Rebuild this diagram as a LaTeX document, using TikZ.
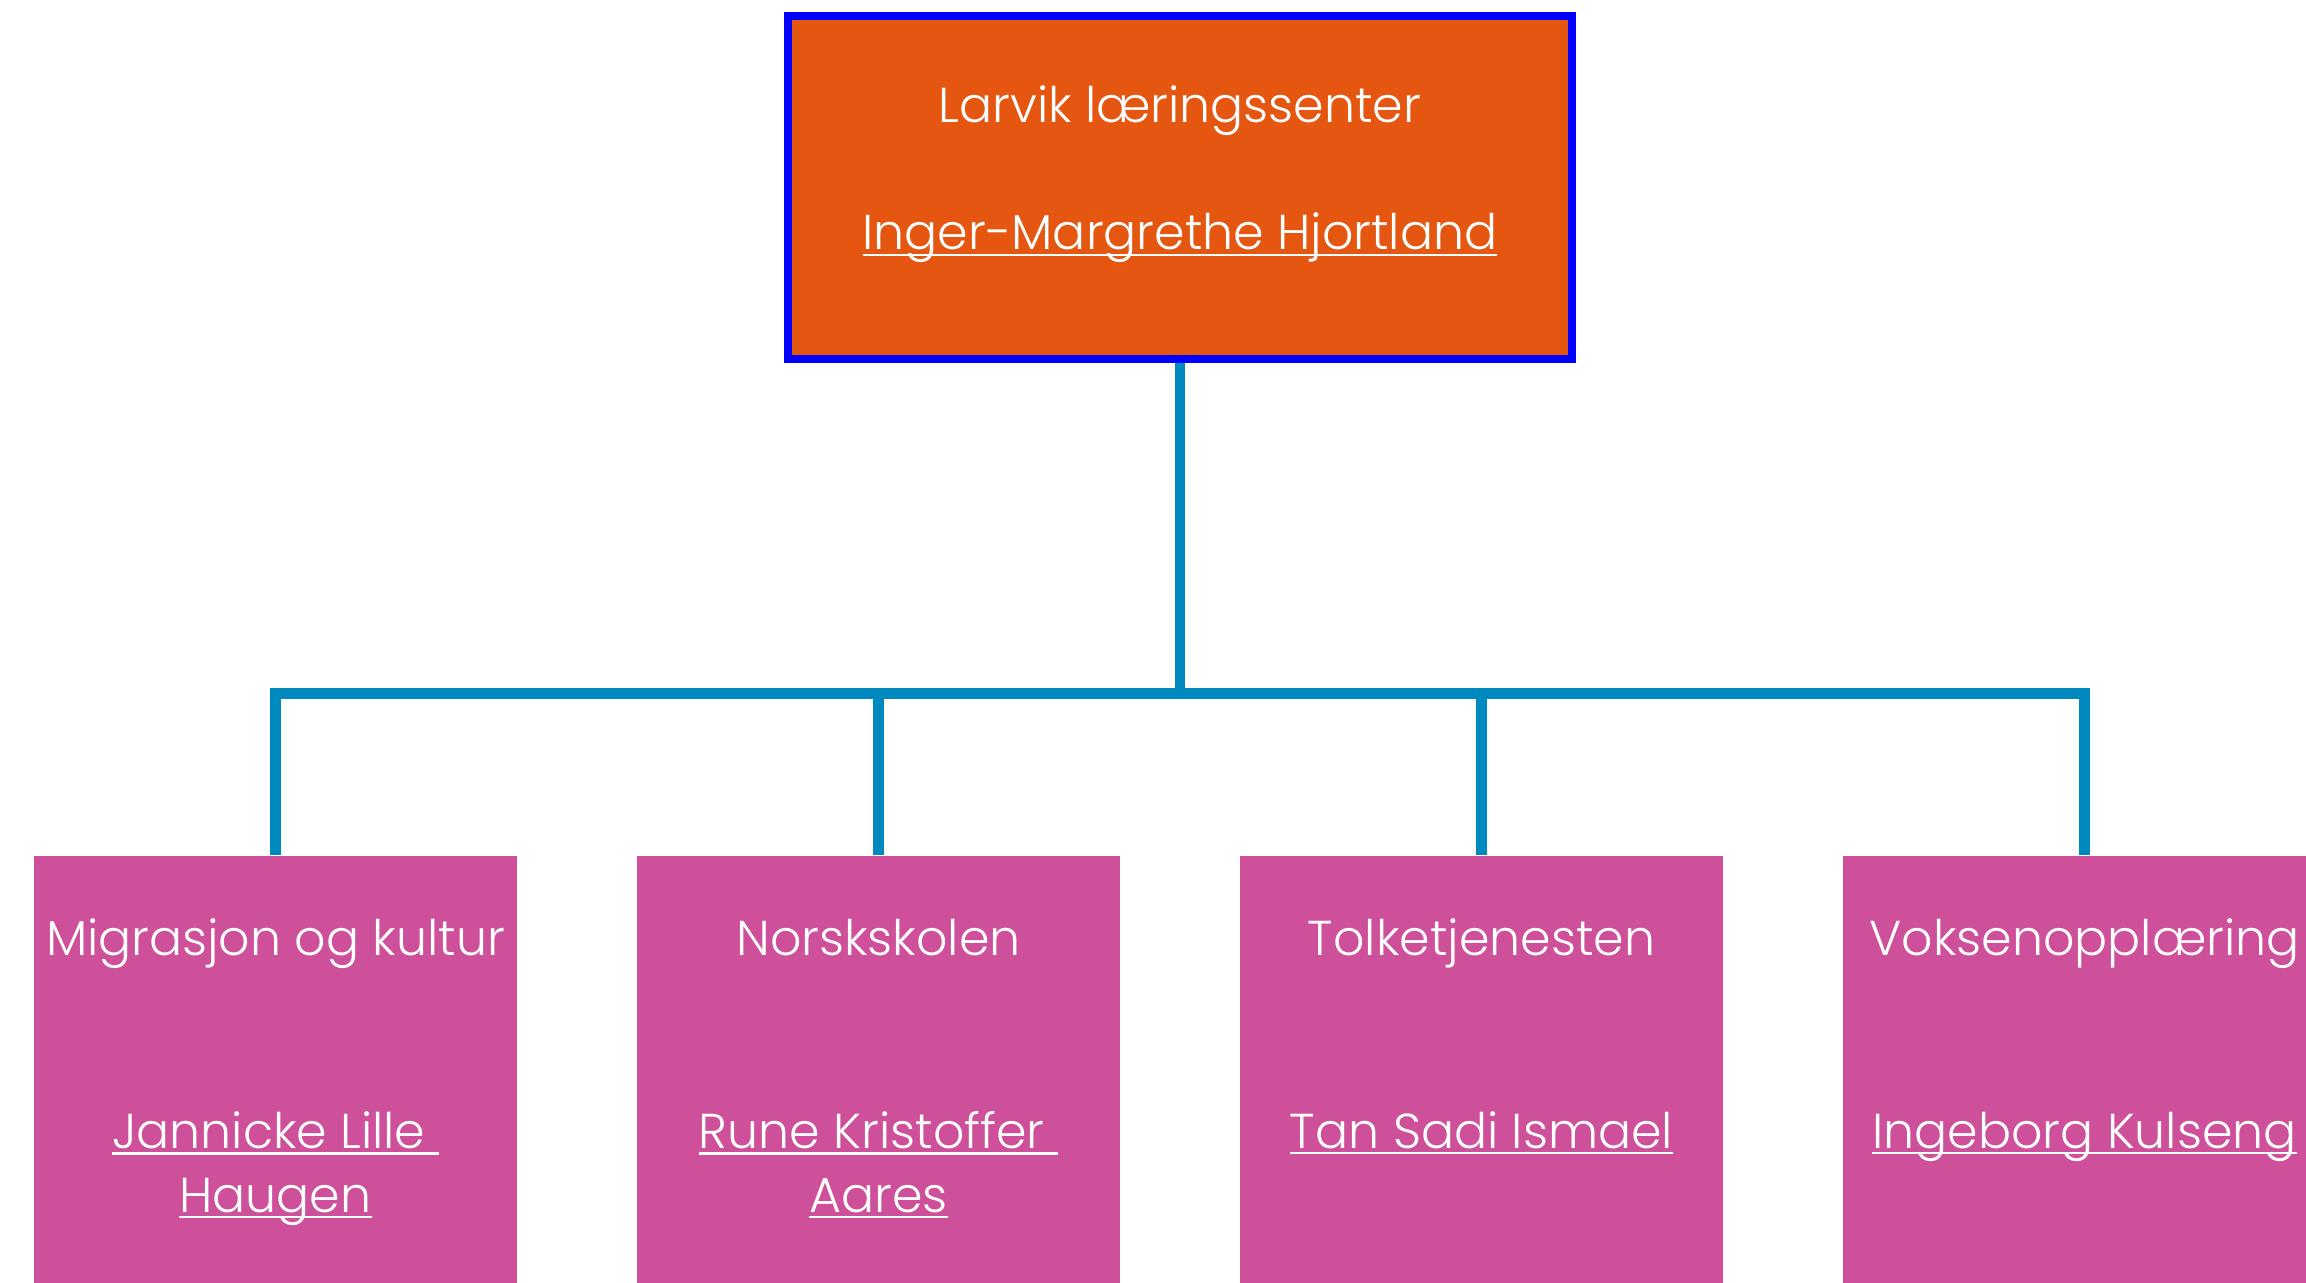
\documentclass[tikz,border=0pt]{standalone}
\usepackage{fontspec}
\setmainfont{Poppins}[UprightFont = * Light]
\usetikzlibrary{trees}
\usetikzlibrary{positioning}
\definecolor{larvikorange}{RGB}{229,87,17}
\definecolor{unitpink}{RGB}{206,80,155}
\definecolor{linkblue}{RGB}{0,137,191}
\newcommand{\nameline}[1]{\setbox0\hbox{#1}\rlap{\rule[-0.13em]{\wd0}{0.055em}}\box0}
\tikzset{
    rootbox/.style = {rectangle, line width=0.083cm, draw=blue, fill=larvikorange, minimum width=7.84cm, minimum height=3.43cm, inner sep=0pt},
    unitbox/.style = {rectangle, fill=unitpink, minimum width=4.83cm, minimum height=4.6cm, inner sep=0pt},
    boxtext/.style = {anchor=base, inner sep=0pt, align=center, text=white, font=\fontsize{13.95}{18.2}\selectfont},
    edgel/.style = {-, line width=0.107cm, linkblue}
}
\begin{document}
\begin{tikzpicture}[
  level distance=8.98cm,
  sibling distance=6.03cm,
  edge from parent/.style={draw, edgel},
  edge from parent path={(\tikzparentnode.south) -- ++(0,-3.302) -| (\tikzchildnode.north)}]
  \useasboundingbox (0,0) rectangle (23.06,-12.83);
  \node[rootbox] (larvik) at (11.80,-1.878) {}
    child {node[unitbox] (migrasjon) {}}
    child {node[unitbox] (norsk) {}}
    child {node[unitbox] (tolk) {}}
    child {node[unitbox] (voksen) {}};
  % titles
  \node[boxtext] (larviktitle) at ([yshift=-1.104cm]larvik.north) {Larvik læringssenter};
  \node[boxtext] (migrasjontitle) at ([yshift=-1.007cm]migrasjon.north) {Migrasjon og kultur};
  \node[boxtext] (norsktitle) at ([yshift=-1.007cm]norsk.north) {Norskskolen};
  \node[boxtext] (tolktitle) at ([yshift=-1.007cm]tolk.north) {Tolketjenesten};
  \node[boxtext] (voksentitle) at ([yshift=-1.007cm]voksen.north) {Voksenopplæring};
  % leaders (base = last line)
  \node[boxtext] (larvikname) at ([yshift=-2.377cm]larvik.north) {\nameline{Inger-Margrethe Hjortland}};
  \node[boxtext] (migrasjonname) at ([yshift=-3.57cm]migrasjon.north) {\nameline{Jannicke Lille\ }\\\nameline{Haugen}};
  \node[boxtext] (norskname) at ([yshift=-3.57cm]norsk.north) {\nameline{Rune Kristoffer\ }\\\nameline{Aares}};
  \node[boxtext] (tolkname) at ([yshift=-2.93cm]tolk.north) {\nameline{Tan Sadi Ismael}};
  \node[boxtext] (voksenname) at ([yshift=-2.93cm]voksen.north) {\nameline{Ingeborg Kulseng}};
\end{tikzpicture}
\end{document}
